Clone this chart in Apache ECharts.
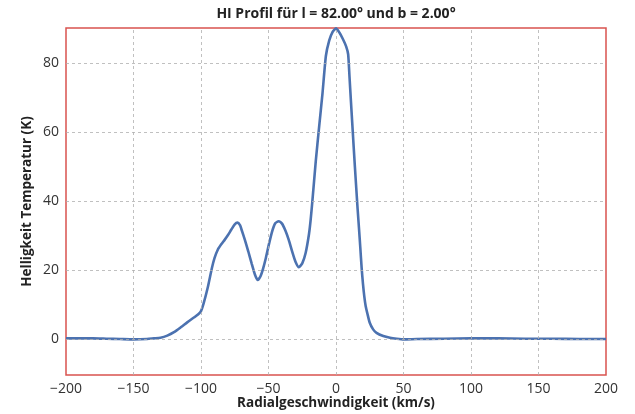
<!DOCTYPE html>
<html>
<head>
<meta charset="utf-8">
<script src="https://cdn.jsdelivr.net/npm/echarts@6/dist/echarts.min.js"></script>
<style>html,body{margin:0;padding:0;background:#fff;}#c{width:635px;height:414px;}</style>
</head>
<body>
<div id="c"></div>
<script>
const velocity = [-200,-190,-180,-170,-160,-150,-140,-135,-130,-125,-120,-115,-110,-105,-102,-100,-98,-95,-92,-90,-87.5,-85,-82.5,-80,-77.5,-75,-73,-71,-70,-67.5,-65,-62.5,-60,-58,-56,-54,-52,-50,-47.5,-45,-42.5,-40,-37.5,-35,-32.5,-30,-27.5,-25,-22.5,-20,-18.8,-17.5,-15,-12.5,-10,-7.5,-5,-2.5,0,2.5,5,7.5,9,10,11,12,13,14,15,16,17,18,19,20,21,22,23.3,25,27.5,30,35,40,45,50,60,80,100,120,140,160,180,200];
const temperature = [0.3,0.3,0.3,0.2,0.1,0.0,0.1,0.3,0.5,1.1,2.1,3.5,5.0,6.4,7.3,8.2,10.5,15,20.5,23.5,26,27.5,28.8,30.2,31.8,33.3,33.8,33,31.8,28.8,25.5,22,18.7,17.2,18.2,20.5,23.5,27,31,33.6,34.2,33.5,31.5,28.8,25.5,22.5,20.9,22,25,30.5,34.5,40,51.5,61.5,71.2,82,86.5,89,90,88.8,87,84.8,82.5,76,69.3,62.8,56.3,49.9,43.8,37.8,32.3,26.6,20.6,16,12.3,9.6,7.4,4.8,2.9,1.9,1.0,0.5,0.2,0.0,0.1,0.2,0.3,0.3,0.2,0.2,0.1,0.1];
const yTicks = [0,20,40,60,80];
const xGrid = [-150,-100,-50,0,50,100,150];
const yGrid = [0,20,40,60,80];
const titleText = 'HI Profil für l = 82.00° und b = 2.00°';
const xName = 'Radialgeschwindigkeit (km/s)';
const yName = 'Helligkeit Temperatur (K)';

const font = '"Open Sans", "DejaVu Sans", sans-serif';
const gridLine = {type: [3, 3], color: '#b0b0b0', width: 0.8};
const chart = echarts.init(document.getElementById('c'), null, {renderer: 'canvas'});
chart.setOption({
  animation: false,
  backgroundColor: '#fff',
  title: {text: titleText, left: 336, top: 7, padding: 0, textAlign: 'center',
    textStyle: {fontFamily: font, fontSize: 14, fontWeight: 'bold', color: '#222'}},
  grid: {left: 66, right: 29, top: 28, bottom: 39, show: true, borderColor: '#d9534f', borderWidth: 1.5,
    backgroundColor: 'transparent', containLabel: false, outerBoundsMode: 'none'},
  xAxis: {type: 'value', min: -200, max: 200, interval: 50,
    name: xName, nameLocation: 'middle', nameGap: 21, nameMoveOverlap: false,
    nameTextStyle: {fontFamily: font, fontSize: 13.5, fontWeight: 'bold', color: '#222'},
    axisLine: {show: false}, axisTick: {show: false}, splitLine: {show: false},
    axisLabel: {fontFamily: font, fontSize: 14, color: '#333', margin: 7,
      formatter: v => (v < 0 ? '\u2212' + Math.abs(v) : String(v))}},
  yAxis: {type: 'value', min: -10.3, max: 90.1,
    name: yName, nameLocation: 'middle', nameGap: 32, nameMoveOverlap: false,
    nameTextStyle: {fontFamily: font, fontSize: 13.5, fontWeight: 'bold', color: '#222'},
    axisLine: {show: false}, axisTick: {show: false}, splitLine: {show: false},
    axisLabel: {fontFamily: font, fontSize: 14, color: '#333', margin: 7, customValues: yTicks}},
  series: [
    {type: 'line', data: [], z: 1, silent: true,
      markLine: {silent: true, symbol: 'none', animation: false, label: {show: false},
        lineStyle: gridLine,
        data: xGrid.map(v => ({xAxis: v})).concat(yGrid.map(v => ({yAxis: v})))}},
    {type: 'line', z: 3, showSymbol: false, smooth: 0.2, clip: true,
      data: velocity.map((v, i) => [v, temperature[i]]),
      lineStyle: {color: '#4c72b0', width: 2.6}}
  ]
});
</script>
</body>
</html>
